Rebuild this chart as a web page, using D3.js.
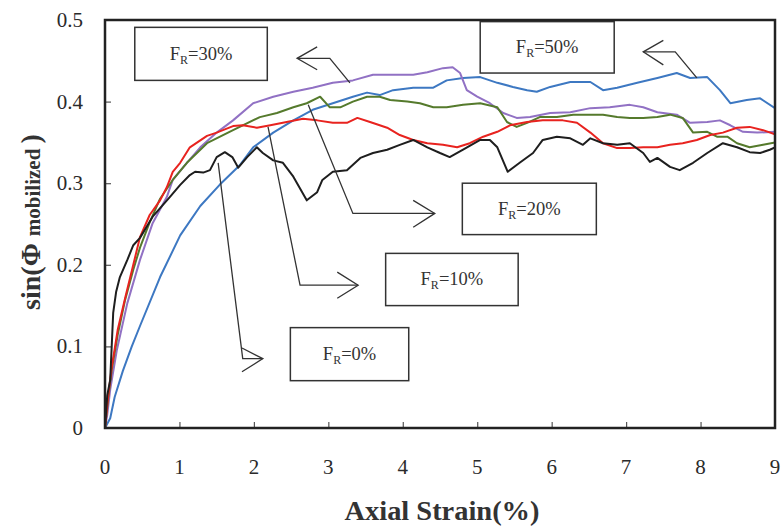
<!DOCTYPE html>
<html><head><meta charset="utf-8">
<script src="https://cdn.jsdelivr.net/npm/d3@7"></script>
<style>body{margin:0;background:#fff}svg{display:block}</style>
</head><body>
<svg id="chart" width="781" height="526"></svg>
<script>
// ---- data (axial strain %, sin(phi mobilized)) ----
const fr0X = [0,0.03,0.07,0.11,0.15,0.20,0.30,0.38,0.47,0.64,0.87,1.01,1.14,1.21,1.32,1.41,1.50,1.61,1.71,1.79,1.91,2.04,2.12,2.26,2.39,2.53,2.71,2.85,2.92,3.06,3.25,3.43,3.60,3.79,3.96,4.14,4.33,4.50,4.63,4.81,5.04,5.17,5.27,5.41,5.57,5.75,5.88,6.07,6.25,6.42,6.52,6.69,6.88,7.05,7.23,7.32,7.42,7.59,7.72,7.90,8.09,8.30,8.49,8.66,8.80,8.93,9.00];
const fr0Y = [0,0.040,0.059,0.141,0.167,0.185,0.206,0.224,0.233,0.259,0.283,0.298,0.310,0.314,0.313,0.316,0.332,0.338,0.332,0.319,0.332,0.344,0.337,0.328,0.325,0.308,0.279,0.289,0.304,0.314,0.316,0.331,0.337,0.341,0.347,0.353,0.344,0.337,0.332,0.341,0.353,0.353,0.344,0.314,0.325,0.337,0.353,0.357,0.355,0.347,0.355,0.349,0.347,0.349,0.337,0.326,0.331,0.320,0.316,0.325,0.337,0.349,0.344,0.338,0.337,0.341,0.344];

const fr10X = [0,0.04,0.09,0.17,0.27,0.38,0.47,0.60,0.74,0.83,0.91,1.01,1.14,1.37,1.50,1.72,1.85,2.04,2.22,2.44,2.66,2.85,3.06,3.25,3.39,3.56,3.79,3.96,4.14,4.33,4.54,4.73,4.90,5.08,5.27,5.44,5.67,5.88,6.15,6.34,6.52,6.69,6.88,7.05,7.23,7.42,7.59,7.76,7.95,8.13,8.30,8.49,8.66,8.84,9.00];
const fr10Y = [0,0.037,0.074,0.120,0.159,0.200,0.234,0.261,0.279,0.295,0.314,0.325,0.344,0.358,0.362,0.370,0.371,0.368,0.371,0.375,0.379,0.377,0.374,0.374,0.380,0.375,0.368,0.359,0.353,0.349,0.347,0.344,0.349,0.357,0.363,0.371,0.375,0.377,0.377,0.374,0.362,0.349,0.343,0.343,0.344,0.344,0.347,0.349,0.353,0.359,0.362,0.368,0.369,0.365,0.360];

const fr20X = [0,0.04,0.09,0.17,0.27,0.38,0.47,0.60,0.74,0.91,1.10,1.37,1.72,2.08,2.31,2.53,2.71,2.89,3.02,3.16,3.33,3.52,3.69,3.83,4.06,4.23,4.41,4.59,4.81,5.04,5.27,5.40,5.53,5.67,5.84,6.07,6.29,6.52,6.69,6.88,7.05,7.23,7.42,7.59,7.76,7.90,8.09,8.22,8.36,8.49,8.66,8.84,9.00];
const fr20Y = [0,0.034,0.071,0.114,0.157,0.194,0.221,0.252,0.281,0.304,0.325,0.349,0.365,0.381,0.386,0.393,0.398,0.406,0.393,0.393,0.400,0.406,0.406,0.402,0.400,0.398,0.393,0.393,0.396,0.398,0.393,0.375,0.369,0.374,0.381,0.381,0.384,0.384,0.384,0.381,0.380,0.380,0.381,0.384,0.380,0.362,0.363,0.357,0.357,0.349,0.344,0.347,0.350];

const fr30X = [0,0.03,0.07,0.16,0.30,0.47,0.64,0.83,0.91,1.10,1.28,1.50,1.72,1.99,2.26,2.53,2.79,3.06,3.33,3.60,3.87,4.14,4.33,4.54,4.67,4.77,4.86,5.00,5.17,5.35,5.53,5.71,5.98,6.25,6.52,6.78,7.05,7.23,7.42,7.68,7.86,8.09,8.26,8.40,8.57,8.76,9.00];
const fr30Y = [0,0.016,0.047,0.096,0.153,0.206,0.251,0.283,0.304,0.325,0.344,0.362,0.377,0.398,0.406,0.412,0.417,0.423,0.426,0.433,0.433,0.433,0.436,0.441,0.442,0.435,0.414,0.406,0.398,0.386,0.380,0.381,0.386,0.387,0.392,0.393,0.396,0.393,0.387,0.384,0.374,0.375,0.377,0.371,0.363,0.362,0.363];

const fr50X = [0,0.07,0.13,0.24,0.36,0.47,0.74,1.01,1.28,1.54,1.81,1.99,2.26,2.53,2.79,3.06,3.33,3.52,3.69,3.87,4.14,4.41,4.59,4.81,5.04,5.27,5.48,5.67,5.80,5.98,6.25,6.52,6.69,6.88,7.15,7.42,7.68,7.86,8.09,8.26,8.40,8.62,8.80,9.00];
const fr50Y = [0,0.012,0.038,0.070,0.100,0.125,0.185,0.236,0.272,0.298,0.322,0.344,0.362,0.377,0.390,0.398,0.406,0.411,0.408,0.414,0.417,0.417,0.426,0.429,0.430,0.423,0.418,0.414,0.412,0.418,0.424,0.424,0.414,0.417,0.423,0.429,0.435,0.429,0.430,0.414,0.398,0.402,0.404,0.392];

const seriesNames = ["0%","10%","20%","30%","50%"];
const seriesColors = ["#1e1e1e","#e8231f","#557a2c","#9171c4","#3d78c2"];

const xTicks = [0,1,2,3,4,5,6,7,8,9];
const yTicks = [0,0.1,0.2,0.3,0.4,0.5];
const yTickLabels = ["0","0.1","0.2","0.3","0.4","0.5"];

// annotation boxes: [label, x0, x1, yTop, yBottom] in data units
const boxLabels = ["30%","50%","20%","10%","0%"];
const boxX0 = [0.40,5.04,4.80,3.77,2.49];
const boxX1 = [2.18,6.84,6.60,5.55,4.08];
const boxYTop = [0.491,0.498,0.300,0.214,0.123];
const boxYBot = [0.426,0.435,0.237,0.150,0.058];
// arrows: stem polyline + head (wing, tip, wing)
const arrowStems = [
  [[3.29,0.423],[3.02,0.453],[2.58,0.453]],
  [[7.95,0.429],[7.66,0.461],[7.23,0.461]],
  [[2.73,0.396],[3.33,0.263],[4.43,0.263]],
  [[2.19,0.369],[2.62,0.175],[3.40,0.175]],
  [[1.52,0.325],[1.85,0.085],[2.12,0.085]]
];
const arrowWings = [
  [[2.85,0.467],[2.58,0.453],[2.85,0.439]],
  [[7.50,0.475],[7.23,0.461],[7.50,0.445]],
  [[4.14,0.279],[4.43,0.263],[4.14,0.246]],
  [[3.12,0.191],[3.40,0.175],[3.12,0.159]],
  [[1.84,0.098],[2.12,0.085],[1.84,0.069]]
];

// ---- drawing ----
const svg = d3.select("#chart");
const L = 105, R = 775, T = 20, B = 428;
const x = d3.scaleLinear().domain([0,9]).range([L,R]);
const y = d3.scaleLinear().domain([0,0.5]).range([B,T]);
const serif = "'Liberation Serif','Times New Roman',serif";

// ticks (inward)
const xAxis = d3.axisBottom(x).tickValues(xTicks.slice(1,-1)).tickSize(-6).tickFormat("");
svg.append("g").attr("transform",`translate(0,${B})`).call(xAxis)
  .call(g=>g.select(".domain").remove())
  .call(g=>g.selectAll("line").attr("stroke","#555").attr("stroke-width",1.2));
const yAxis = d3.axisLeft(y).tickValues(yTicks.slice(1,-1)).tickSize(-6).tickFormat("");
svg.append("g").attr("transform",`translate(${L},0)`).call(yAxis)
  .call(g=>g.select(".domain").remove())
  .call(g=>g.selectAll("line").attr("stroke","#555").attr("stroke-width",1.2));

// tick labels
svg.append("g").selectAll("text").data(xTicks).join("text")
  .attr("x",d=>x(d)).attr("y",B+46).attr("text-anchor","middle")
  .attr("font-family",serif).attr("font-size",21).attr("fill","#2a2a2a").text(d=>d);
svg.append("g").selectAll("text").data(yTicks).join("text")
  .attr("x",L-22).attr("y",d=>y(d)+7).attr("text-anchor","end")
  .attr("font-family",serif).attr("font-size",21).attr("fill","#2a2a2a").text((d,i)=>yTickLabels[i]);

// series lines
const xs = [fr0X,fr10X,fr20X,fr30X,fr50X];
const ys = [fr0Y,fr10Y,fr20Y,fr30Y,fr50Y];
const line = d3.line().x(d=>x(d[0])).y(d=>y(d[1]));
const order = [4,3,2,1,0];
svg.append("clipPath").attr("id","clip").append("rect")
  .attr("x",L).attr("y",T).attr("width",R-L).attr("height",B-T);
const lg = svg.append("g").attr("clip-path","url(#clip)");
order.forEach(i=>{
  const pts = xs[i].map((v,k)=>[v,ys[i][k]]);
  lg.append("path").datum(pts).attr("d",line).attr("fill","none")
    .attr("stroke",seriesColors[i]).attr("stroke-width",2).attr("stroke-linejoin","round");
});

// annotations
const ag = svg.append("g");
arrowStems.forEach((s,i)=>{
  ag.append("path").datum(s).attr("d",line).attr("fill","none").attr("stroke","#333").attr("stroke-width",1.3);
  ag.append("path").datum(arrowWings[i]).attr("d",line).attr("fill","none").attr("stroke","#333").attr("stroke-width",1.3);
});
boxLabels.forEach((lab,i)=>{
  const bx = x(boxX0[i]), by = y(boxYTop[i]), bw = x(boxX1[i])-x(boxX0[i]), bh = y(boxYBot[i])-y(boxYTop[i]);
  ag.append("rect").attr("x",bx).attr("y",by).attr("width",bw).attr("height",bh)
    .attr("fill","#fff").attr("stroke","#333").attr("stroke-width",1.5);
  const t = ag.append("text").attr("x",bx+bw/2).attr("y",by+bh/2+6).attr("text-anchor","middle")
    .attr("font-family",serif).attr("font-size",18.5).attr("fill","#333");
  t.append("tspan").text("F");
  t.append("tspan").attr("font-size",12).attr("dy",4).text("R");
  t.append("tspan").attr("dy",-4).text("="+lab);
});

// frame
svg.append("rect").attr("x",L).attr("y",T).attr("width",R-L).attr("height",B-T)
  .attr("fill","none").attr("stroke","#222").attr("stroke-width",2.5);

// axis titles
svg.append("text").attr("x",442).attr("y",520).attr("text-anchor","middle")
  .attr("font-family",serif).attr("font-weight","bold").attr("font-size",27).attr("fill","#333")
  .attr("textLength",195).attr("lengthAdjust","spacingAndGlyphs")
  .text("Axial Strain(%)");
const yt = svg.append("text").attr("transform",`translate(40,222) rotate(-90)`)
  .attr("text-anchor","middle").attr("font-family",serif).attr("font-weight","bold")
  .attr("font-size",28).attr("fill","#333");
yt.append("tspan").text("sin(Φ ");
yt.append("tspan").attr("font-size",21).text("mobilized ");
yt.append("tspan").text(")");
</script>
</body></html>
